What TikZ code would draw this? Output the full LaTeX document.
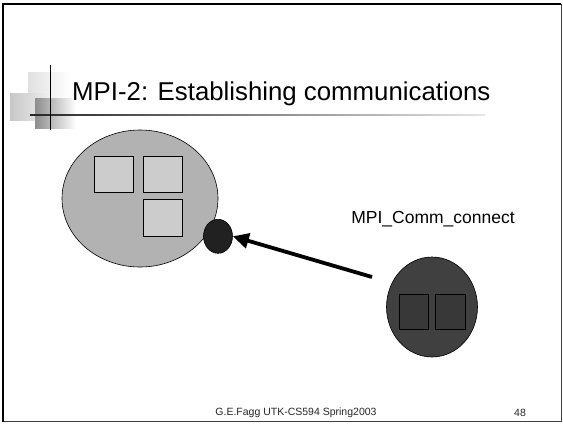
\documentclass[tikz,border=0pt]{standalone}
\usepackage{fontspec}
\setmainfont{Liberation Sans}
\usetikzlibrary{arrows.meta,shapes.geometric}
\begin{document}
\begin{tikzpicture}[x=1pt,y=-1pt,
  blob/.style={ellipse,draw=black,line width=0.6pt,inner sep=0pt},
  box/.style={draw=black,line width=0.7pt}]
\useasboundingbox (0,0) rectangle (563,424);
\fill[white] (0,0) rectangle (563,424);
% frame
\draw[black!75,line width=1pt] (561,4) -- (561,421.5) -- (3,421.5);
\draw[black,line width=1.2pt] (3,421.5) -- (3,4) -- (561,4);
% title decoration
\shade[left color=black!12,right color=white] (28,72) rectangle (70,102);
\shade[left color=black!22,right color=black!8] (10,93) rectangle (46,120);
\shade[left color=black!45,right color=white] (35,98) rectangle (76,128);
\shade[left color=black!85,right color=black!10] (30,114.3) rectangle (485,115.8);
\draw[black,line width=1pt] (50,65) -- (50,130);
\node[anchor=base west,font=\fontsize{25.8}{30}\selectfont,inner sep=0pt] (title) at (72,100.5) {MPI-2: Establishing communications};
% left process group
\node[blob,fill=black!30,minimum width=156pt,minimum height=137pt] (grp) at (140,198.5) {};
\draw[box,fill=black!20] (94.3,156.7) rectangle (133.3,192.7);
\draw[box,fill=black!20] (143.3,156.7) rectangle (182.7,192.7);
\draw[box,fill=black!20] (143.3,199) rectangle (182.7,236);
\node[blob,fill=black!87,minimum width=29pt,minimum height=34pt] (port) at (218,236.3) {};
% right process group
\node[blob,fill=black!75,minimum width=91pt,minimum height=100pt] (cli) at (432,307) {};
\draw[box,fill=black!78] (399,294.7) rectangle (428.7,329.3);
\draw[box,fill=black!78] (435.7,294.7) rectangle (465.3,329.3);
\coordinate (start) at (372,277);
\draw[line width=3.8pt,-{Triangle[length=16pt,width=15pt]}] (start) -- (port.east);
\node[font=\fontsize{17.5}{20}\selectfont,inner sep=0pt] (lbl) at (433,219) {MPI\_Comm\_connect};
% footer
\node[font=\fontsize{10.5}{12}\selectfont,inner sep=0pt,text=black!85] (foot) at (296,413) {G.E.Fagg UTK-CS594 Spring2003};
\node[font=\fontsize{10.5}{12}\selectfont,inner sep=0pt,text=black!85] (num) at (520,413) {48};
\end{tikzpicture}
\end{document}
